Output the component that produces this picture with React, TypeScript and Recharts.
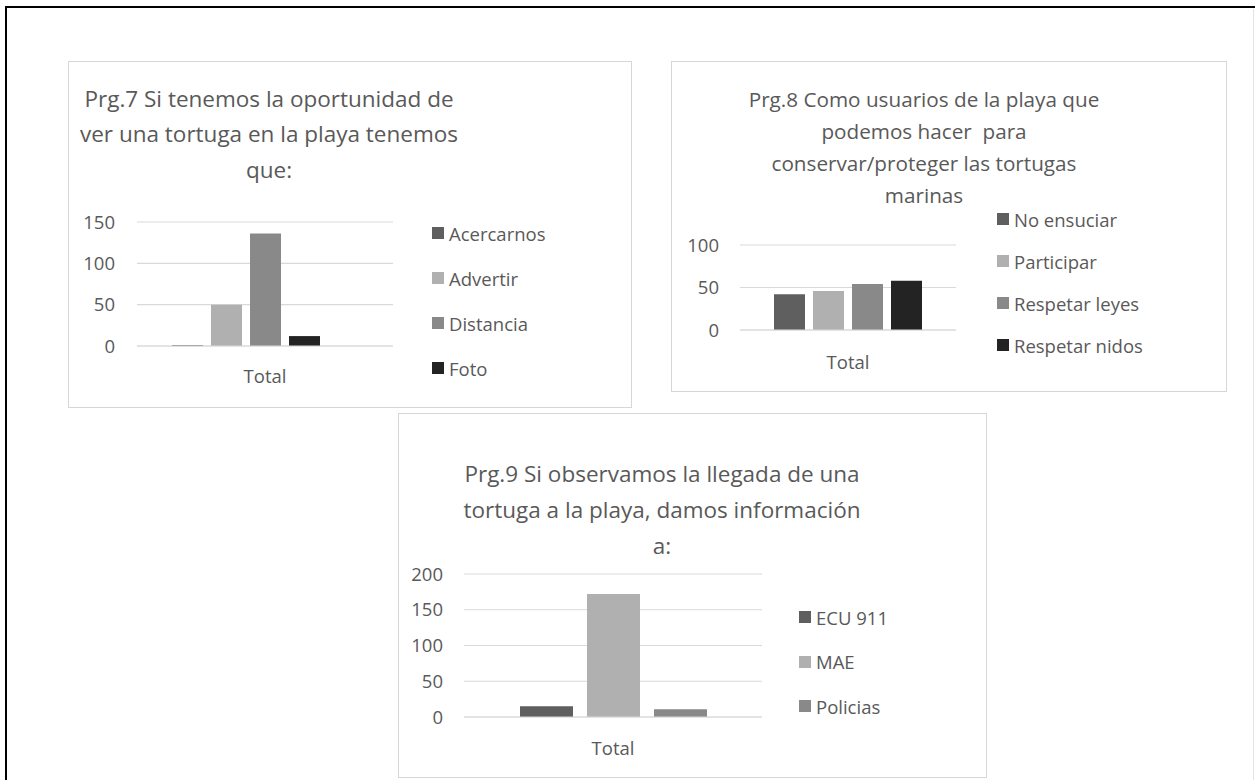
import React from "react";
import { BarChart, Bar, XAxis, YAxis, CartesianGrid, Legend } from "recharts";

const FONT = '"Open Sans", sans-serif';
const TEXT = "#595959";
const GRID = "#d9d9d9";

const categories = ["Total"];

// Prg.7
const p7Title = ["Prg.7 Si tenemos la oportunidad de", "ver una tortuga en la playa tenemos", "que:"];
const p7Series = ["Acercarnos", "Advertir", "Distancia", "Foto", "(en blanco)"];
const p7Values = [1, 50, 136, 12, 0];
const p7Colors = ["#5f5f5f", "#b0b0b0", "#898989", "#232323", "#c8c8c8"];
const p7Hidden = ["(en blanco)"];
const p7Ticks = [0, 50, 100, 150];

// Prg.8
const p8Title = [
  "Prg.8 Como usuarios de la playa que",
  "podemos hacer  para",
  "conservar/proteger las tortugas",
  "marinas",
];
const p8Series = ["No ensuciar", "Participar", "Respetar leyes", "Respetar nidos"];
const p8Values = [42, 46, 54, 58];
const p8Colors = ["#5f5f5f", "#b0b0b0", "#898989", "#232323"];
const p8Ticks = [0, 50, 100];

// Prg.9
const p9Title = ["Prg.9 Si observamos la llegada de una", "tortuga a la playa, damos información", "a:"];
const p9Series = ["ECU 911", "MAE", "Policias"];
const p9Values = [15, 172, 11];
const p9Colors = ["#5f5f5f", "#b0b0b0", "#898989"];
const p9Ticks = [0, 50, 100, 150, 200];

type PanelProps = {
  x: number;
  y: number;
  w: number;
  h: number;
  title: string[];
  titleSize: number;
  titleLine: number;
  titleTop: number;
  titleCenter: number;
  series: string[];
  values: number[];
  colors: string[];
  hidden?: string[];
  ticks: number[];
  plot: { left: number; top: number; right: number; bottom: number };
  barSize: number;
  barGap: number;
  yTickMargin: number;
  xTickMargin: number;
  legend: { left: number; top: number; step: number };
};

const Panel: React.FC<PanelProps> = (p) => {
  const row: Record<string, any> = { name: categories[0] };
  p.series.forEach((s, i) => (row["s" + i] = p.values[i]));
  const data = [row];
  const xHeight = 40;
  const hidden = p.hidden || [];

  return (
    <div
      style={{
        position: "absolute",
        left: p.x,
        top: p.y,
        width: p.w,
        height: p.h,
        boxShadow: "inset 0 0 0 1px #d6d6d6",
        background: "#fff",
      }}
    >
      <div
        style={{
          position: "absolute",
          left: p.titleCenter - 260,
          width: 520,
          top: p.titleTop,
          textAlign: "center",
          fontFamily: FONT,
          fontSize: p.titleSize,
          lineHeight: p.titleLine + "px",
          color: TEXT,
          whiteSpace: "pre",
          zIndex: 2,
        }}
      >
        {p.title.map((t, i) => (
          <div key={i}>{t}</div>
        ))}
      </div>
      <div style={{ position: "absolute", left: 0, top: 0 }}>
        <BarChart
          width={p.w}
          height={p.h}
          data={data}
          barGap={p.barGap}
          margin={{
            top: p.plot.top,
            right: p.w - p.plot.right,
            bottom: p.h - p.plot.bottom - xHeight,
            left: 0,
          }}
        >
          <CartesianGrid vertical={false} stroke={GRID} strokeWidth={1.2} />
          <XAxis
            dataKey="name"
            height={xHeight}
            tickSize={0}
            tickMargin={p.xTickMargin}
            axisLine={{ stroke: GRID, strokeWidth: 1.2 }}
            tickLine={false}
            tick={{ fill: TEXT, fontSize: 18.5, fontFamily: FONT }}
          />
          <YAxis
            width={p.plot.left}
            domain={[0, p.ticks[p.ticks.length - 1]]}
            ticks={p.ticks}
            interval={0}
            tickSize={0}
            tickMargin={p.yTickMargin}
            axisLine={false}
            tickLine={false}
            tick={{ fill: TEXT, fontSize: 18.5, fontFamily: FONT }}
          />
          <Legend
            layout="vertical"
            align="center"
            verticalAlign="middle"
            wrapperStyle={{ left: p.legend.left, top: p.legend.top, width: 200 }}
            content={(props: any) => {
              const items = (props.payload || []).filter((e: any) => !hidden.includes(e.value));
              items.sort((a: any, b: any) => p.series.indexOf(a.value) - p.series.indexOf(b.value));
              return (
                <div>
                  {items.map((e: any) => (
                    <div
                      key={e.value}
                      style={{
                        height: p.legend.step,
                        display: "flex",
                        alignItems: "center",
                        fontFamily: FONT,
                        fontSize: 18.5,
                        color: TEXT,
                        whiteSpace: "nowrap",
                      }}
                    >
                      <span
                        style={{
                          display: "inline-block",
                          width: 12,
                          height: 12,
                          background: e.color,
                          marginRight: 5,
                        }}
                      />
                      {e.value}
                    </div>
                  ))}
                </div>
              );
            }}
          />
          {p.series.map((s, i) => (
            <Bar
              key={s}
              dataKey={"s" + i}
              name={s}
              fill={p.colors[i]}
              barSize={p.barSize}
              legendType={hidden.includes(s) ? "none" : "square"}
              isAnimationActive={false}
            />
          ))}
        </BarChart>
      </div>
    </div>
  );
};

export default function App() {
  return (
    <div
      style={{
        position: "absolute",
        left: 0,
        top: 0,
        width: 1255,
        height: 780,
        overflow: "hidden",
        background: "#fff",
      }}
    >
      <div
        style={{
          position: "absolute",
          left: 5,
          top: 6,
          width: 1300,
          height: 820,
          borderTop: "2.5px solid #000",
          borderLeft: "2.5px solid #000",
        }}
      />
      <div style={{ position: "absolute", left: 1253, top: 9, width: 1, height: 780, background: "#e4e4e4" }} />

      <Panel
        x={68}
        y={61}
        w={564}
        h={347}
        title={p7Title}
        titleSize={22.5}
        titleLine={35.5}
        titleTop={19.5}
        titleCenter={201}
        series={p7Series}
        values={p7Values}
        colors={p7Colors}
        hidden={p7Hidden}
        ticks={p7Ticks}
        plot={{ left: 69, top: 161, right: 325, bottom: 285 }}
        barSize={31}
        barGap={8}
        yTickMargin={22}
        xTickMargin={24}
        legend={{ left: 364, top: 149.5, step: 45 }}
      />
      <Panel
        x={671}
        y={61}
        w={556}
        h={331}
        title={p8Title}
        titleSize={20.7}
        titleLine={32}
        titleTop={22}
        titleCenter={253}
        series={p8Series}
        values={p8Values}
        colors={p8Colors}
        ticks={p8Ticks}
        plot={{ left: 69, top: 184, right: 285, bottom: 269 }}
        barSize={31}
        barGap={8}
        yTickMargin={21}
        xTickMargin={25.5}
        legend={{ left: 326, top: 137, step: 42 }}
      />
      <Panel
        x={398}
        y={413}
        w={589}
        h={365}
        title={p9Title}
        titleSize={22.5}
        titleLine={36}
        titleTop={43.3}
        titleCenter={264}
        series={p9Series}
        values={p9Values}
        colors={p9Colors}
        ticks={p9Ticks}
        plot={{ left: 66, top: 161, right: 364, bottom: 304 }}
        barSize={53}
        barGap={14}
        yTickMargin={21}
        xTickMargin={24.5}
        legend={{ left: 401, top: 181.75, step: 44.5 }}
      />
    </div>
  );
}
